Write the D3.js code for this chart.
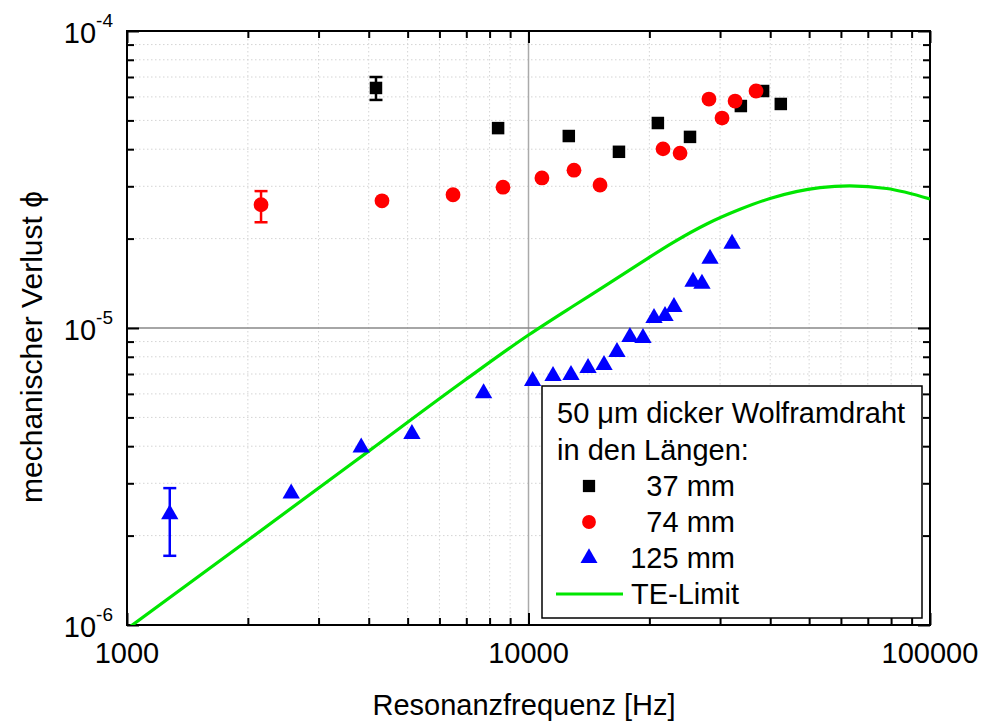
<!DOCTYPE html>
<html>
<head>
<meta charset="utf-8">
<script src="https://cdn.jsdelivr.net/npm/d3@7"></script>
<style>
  body { margin: 0; background: #fff; }
  text { font-family: Arial, "Liberation Sans", sans-serif; fill: #000; }
</style>
</head>
<body>
<script>
// 37 mm wire (black squares)
const f37 = [4170, 8400, 12600, 16800, 21000, 25250, 33800, 38400, 42500];
const phi37 = [6.43e-5, 4.71e-5, 4.43e-5, 3.92e-5, 4.90e-5, 4.40e-5, 5.59e-5, 6.28e-5, 5.68e-5];

// 74 mm wire (red circles)
const f74 = [2157, 4316, 6486, 8640, 10800, 12980, 15070, 21630, 23850, 28150, 30340, 32700, 36870];
const phi74 = [2.60e-5, 2.68e-5, 2.81e-5, 2.98e-5, 3.20e-5, 3.40e-5, 3.03e-5, 4.01e-5, 3.88e-5, 5.90e-5, 5.09e-5, 5.81e-5, 6.28e-5];

// 125 mm wire (blue triangles)
const f125 = [1278, 2564, 3831, 5124, 7730, 10240, 11510, 12760, 14070, 15420, 16610, 17890, 19280, 20540, 21880, 23030, 25690, 27040, 28320, 32130];
const phi125 = [2.36e-6, 2.77e-6, 3.96e-6, 4.40e-6, 6.03e-6, 6.63e-6, 6.89e-6, 6.95e-6, 7.33e-6, 7.50e-6, 8.30e-6, 9.33e-6, 9.25e-6, 1.08e-5, 1.097e-5, 1.177e-5, 1.43e-5, 1.41e-5, 1.71e-5, 1.92e-5];

// error bars: first point of each series
const errLow37 = [5.86e-5], errHigh37 = [7.0e-5];
const errLow74 = [2.27e-5], errHigh74 = [2.89e-5];
const errLow125 = [1.71e-6], errHigh125 = [2.89e-6];

// thermoelastic limit
const teFreq = [1000, 2000, 4000, 6950, 10000, 12930, 15650, 18950, 22950, 27790, 33640, 39950, 53200, 63100, 78000, 100000];
const tePhi = [0.97e-6, 1.93e-6, 3.85e-6, 6.68e-6, 9.47e-6, 1.186e-5, 1.396e-5, 1.651e-5, 1.943e-5, 2.24e-5, 2.51e-5, 2.73e-5, 2.97e-5, 3.01e-5, 2.95e-5, 2.72e-5];

const xMajor = [1000, 10000, 100000];
const xLabels = ["1000", "10000", "100000"];
const yMajor = [1e-6, 1e-5, 1e-4];
const yExp = ["-6", "-5", "-4"];
const legendTitle = ["50 \u03bcm dicker Wolframdraht", "in den L\u00e4ngen:"];
const legendLabels = ["37 mm", "74 mm", "125 mm", "TE-Limit"];

const W = 984, H = 722;
const pLeft = 127, pRight = 930, pTop = 31, pBottom = 625;

const svg = d3.select("body")
  .append("svg")
  .attr("width", W)
  .attr("height", H);

const x = d3.scaleLog().domain([1000, 100000]).range([pLeft, pRight]);
const y = d3.scaleLog().domain([1e-6, 1e-4]).range([pBottom, pTop]);

const xMinor = x.ticks().filter(v => !xMajor.includes(v));
const yMinor = y.ticks().filter(v => !yMajor.some(m => Math.abs(m - v) / m < 1e-9));

// minor grid (dotted)
svg.append("g")
  .selectAll("line")
  .data(xMinor)
  .join("line")
  .attr("x1", d => x(d)).attr("x2", d => x(d))
  .attr("y1", pTop).attr("y2", pBottom)
  .attr("stroke", "#d4d4d4")
  .attr("stroke-dasharray", "1.5,2.5");

svg.append("g")
  .selectAll("line")
  .data(yMinor)
  .join("line")
  .attr("x1", pLeft).attr("x2", pRight)
  .attr("y1", d => y(d)).attr("y2", d => y(d))
  .attr("stroke", "#d4d4d4")
  .attr("stroke-dasharray", "1.5,2.5");

// major grid
svg.append("line")
  .attr("x1", x(10000)).attr("x2", x(10000))
  .attr("y1", pTop).attr("y2", pBottom)
  .attr("stroke", "#aaa").attr("stroke-width", 1.5);
svg.append("line")
  .attr("x1", pLeft).attr("x2", pRight)
  .attr("y1", y(1e-5)).attr("y2", y(1e-5))
  .attr("stroke", "#888").attr("stroke-width", 1.5);

// ticks on all four sides, pointing inwards
function ticks(axis, tr, values, size) {
  const g = svg.append("g")
    .attr("transform", tr)
    .call(axis.tickValues(values).tickSize(-size).tickFormat(""));
  g.select(".domain").remove();
  g.selectAll(".tick line").attr("stroke", "#000").attr("stroke-width", 2);
}
ticks(d3.axisBottom(x), `translate(0,${pBottom})`, xMinor, 7);
ticks(d3.axisBottom(x), `translate(0,${pBottom})`, xMajor, 12);
ticks(d3.axisTop(x), `translate(0,${pTop})`, xMinor, 7);
ticks(d3.axisTop(x), `translate(0,${pTop})`, xMajor, 12);
ticks(d3.axisLeft(y), `translate(${pLeft},0)`, yMinor, 7);
ticks(d3.axisLeft(y), `translate(${pLeft},0)`, yMajor, 12);
ticks(d3.axisRight(y), `translate(${pRight},0)`, yMinor, 7);
ticks(d3.axisRight(y), `translate(${pRight},0)`, yMajor, 12);

svg.append("rect")
  .attr("x", pLeft).attr("y", pTop)
  .attr("width", pRight - pLeft).attr("height", pBottom - pTop)
  .attr("fill", "none")
  .attr("stroke", "#000")
  .attr("stroke-width", 2);

// tick labels
svg.append("g")
  .selectAll("text")
  .data(xMajor)
  .join("text")
  .attr("x", d => x(d))
  .attr("y", pBottom + 38)
  .attr("text-anchor", "middle")
  .attr("font-size", "29px")
  .text((d, i) => xLabels[i]);

const yl = svg.append("g")
  .selectAll("text")
  .data(yMajor)
  .join("text")
  .attr("x", pLeft - 14)
  .attr("y", d => y(d) + 12)
  .attr("text-anchor", "end")
  .attr("font-size", "29px");
yl.append("tspan").text("10");
yl.append("tspan")
  .attr("dy", -16)
  .attr("font-size", "19px")
  .text((d, i) => yExp[i]);

// axis titles
svg.append("text")
  .attr("x", 524)
  .attr("y", 715)
  .attr("text-anchor", "middle")
  .attr("font-size", "29px")
  .text("Resonanzfrequenz [Hz]");

svg.append("text")
  .attr("transform", "translate(42,347) rotate(-90)")
  .attr("text-anchor", "middle")
  .attr("font-size", "30px")
  .text("mechanischer Verlust \u03d5");

// TE limit
svg.append("clipPath").attr("id", "plot")
  .append("rect")
  .attr("x", pLeft).attr("y", pTop)
  .attr("width", pRight - pLeft).attr("height", pBottom - pTop);

const teLine = d3.line()
  .x((d, i) => x(teFreq[i]))
  .y(d => y(d))
  .curve(d3.curveMonotoneX);

svg.append("path")
  .datum(tePhi)
  .attr("clip-path", "url(#plot)")
  .attr("fill", "none")
  .attr("stroke", "#00e600")
  .attr("stroke-width", 3.2)
  .attr("d", teLine);

// error bars
function errorBars(freqs, lows, highs, color) {
  const g = svg.append("g").attr("stroke", color).attr("stroke-width", 2.5);
  lows.forEach((lo, i) => {
    const cx = x(freqs[i]);
    g.append("line").attr("x1", cx).attr("x2", cx).attr("y1", y(lo)).attr("y2", y(highs[i]));
    g.append("line").attr("x1", cx - 6.5).attr("x2", cx + 6.5).attr("y1", y(lo)).attr("y2", y(lo));
    g.append("line").attr("x1", cx - 6.5).attr("x2", cx + 6.5).attr("y1", y(highs[i])).attr("y2", y(highs[i]));
  });
}
errorBars(f37, errLow37, errHigh37, "#000");
errorBars(f74, errLow74, errHigh74, "#ff0000");
errorBars(f125, errLow125, errHigh125, "#0000ff");

const square = d3.symbol().type(d3.symbolSquare).size(156);
const circle = d3.symbol().type(d3.symbolCircle).size(172);
const triangle = d3.symbol().type(d3.symbolTriangle).size(130);

function points(freqs, vals, sym, color) {
  svg.append("g")
    .selectAll("path")
    .data(vals)
    .join("path")
    .attr("transform", (d, i) => `translate(${x(freqs[i])},${y(d)})`)
    .attr("d", sym)
    .attr("fill", color);
}
points(f37, phi37, square, "#000");
points(f74, phi74, circle, "#ff0000");
points(f125, phi125, triangle, "#0000ff");

// legend
const lg = svg.append("g");
lg.append("rect")
  .attr("x", 542).attr("y", 386)
  .attr("width", 380).attr("height", 232)
  .attr("fill", "#fff")
  .attr("stroke", "#000")
  .attr("stroke-width", 1.5);

legendTitle.forEach((t, i) => {
  lg.append("text")
    .attr("x", 557)
    .attr("y", 423 + i * 37)
    .attr("font-size", "29px")
    .text(t);
});

const rowY = [496, 532, 568, 604];
const legendSyms = [
  [d3.symbol().type(d3.symbolSquare).size(150), "#000"],
  [d3.symbol().type(d3.symbolCircle).size(150), "#ff0000"],
  [d3.symbol().type(d3.symbolTriangle).size(125), "#0000ff"]
];
legendSyms.forEach(([sym, color], i) => {
  lg.append("path")
    .attr("transform", `translate(589,${rowY[i] - 10})`)
    .attr("d", sym())
    .attr("fill", color);
  lg.append("text")
    .attr("x", 735)
    .attr("y", rowY[i])
    .attr("text-anchor", "end")
    .attr("font-size", "29px")
    .text(legendLabels[i]);
});
lg.append("line")
  .attr("x1", 556).attr("x2", 623)
  .attr("y1", rowY[3] - 10).attr("y2", rowY[3] - 10)
  .attr("stroke", "#00e600")
  .attr("stroke-width", 3.2);
lg.append("text")
  .attr("x", 631)
  .attr("y", rowY[3])
  .attr("font-size", "29px")
  .text(legendLabels[3]);
</script>
</body>
</html>
